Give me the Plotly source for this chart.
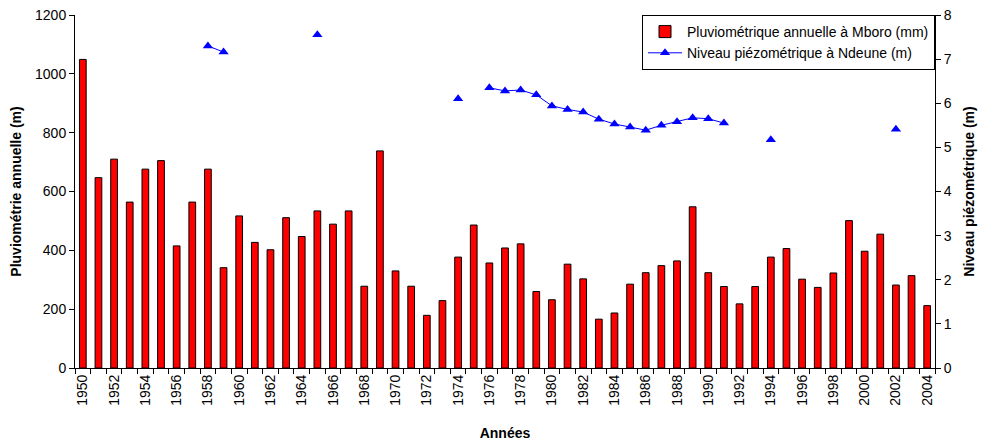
import plotly.graph_objects as go

years = list(range(1950, 2005))

pluie_mboro = [
    1049, 647, 710, 564, 676, 705, 415, 564, 676, 341,
    517, 427, 402, 511, 447, 534, 489, 534, 278, 738,
    330, 278, 179, 229, 377, 486, 357, 408, 422, 260,
    232, 353, 303, 166, 187, 285, 324, 348, 364, 548,
    324, 277, 218, 277, 377, 406, 302, 274, 323, 501,
    397, 455, 282, 314, 212,
]

niveau_ndeune = [
    None, None, None, None, None, None, None, None, 7.30, 7.16,
    None, None, None, None, None, 7.55, None, None, None, None,
    None, None, None, None, 6.10, None, 6.35, 6.28, 6.30, 6.19,
    5.94, 5.86, 5.80, 5.64, 5.53, 5.46, 5.39, 5.50, 5.58, 5.67,
    5.65, 5.55, None, None, 5.17, None, None, None, None, None,
    None, None, 5.41, None, None,
]

year_labels = [str(y) for y in years if y % 2 == 0]

FONT = "Arial, Liberation Sans, sans-serif"

fig = go.Figure()

fig.add_trace(
    go.Bar(
        x=years,
        y=pluie_mboro,
        name="Pluviométrique annuelle à Mboro (mm)",
        marker=dict(color="#ff0000", line=dict(color="black", width=1)),
        yaxis="y",
    )
)

fig.add_trace(
    go.Scatter(
        x=years,
        y=niveau_ndeune,
        name="Niveau piézométrique à Ndeune (m)",
        mode="lines+markers",
        connectgaps=False,
        line=dict(color="#0000ff", width=1),
        marker=dict(symbol="triangle-up", size=9, color="#0000ff"),
        yaxis="y2",
    )
)

fig.update_layout(
    width=982,
    height=443,
    margin=dict(l=75, r=47, t=15, b=75),
    paper_bgcolor="white",
    plot_bgcolor="white",
    font=dict(family=FONT, size=14, color="black"),
    bargap=0.57,
    showlegend=True,
    legend=dict(
        x=1,
        y=1,
        xanchor="right",
        yanchor="top",
        bgcolor="white",
        bordercolor="black",
        borderwidth=1,
        font=dict(size=14),
        itemwidth=34,
        tracegroupgap=2,
    ),
    xaxis=dict(
        range=[1949.5, 2004.5],
        tickmode="array",
        tickvals=[y for y in years if y % 2 == 0],
        ticktext=year_labels,
        tickangle=-90,
        ticks="",
        automargin=False,
        showline=True,
        linecolor="black",
        linewidth=1,
        showgrid=False,
        zeroline=False,
        minor=dict(
            tick0=1949.5,
            dtick=1,
            ticks="outside",
            ticklen=5,
            tickcolor="black",
            showgrid=False,
        ),
        title=dict(text="<b>Années</b>", font=dict(size=14), standoff=23),
    ),
    yaxis=dict(
        range=[0, 1200],
        dtick=200,
        ticks="outside",
        ticklen=5,
        tickcolor="black",
        automargin=False,
        showline=True,
        linecolor="black",
        linewidth=1,
        showgrid=False,
        zeroline=False,
        title=dict(text="<b>Pluviométrie annuelle (m)</b>", font=dict(size=14), standoff=10),
    ),
    yaxis2=dict(
        range=[0, 8],
        dtick=1,
        overlaying="y",
        side="right",
        ticks="outside",
        ticklen=5,
        tickcolor="black",
        automargin=False,
        showline=True,
        linecolor="black",
        linewidth=1,
        showgrid=False,
        zeroline=False,
        title=dict(text="<b>Niveau piézométrique (m)</b>", font=dict(size=14), standoff=13),
    ),
)

# drop the default 8px body margin so the figure sits at the window's corner
fig.write_html(
    "out.html",
    config={"displayModeBar": False},
    post_script="document.body.style.margin='0';",
)
